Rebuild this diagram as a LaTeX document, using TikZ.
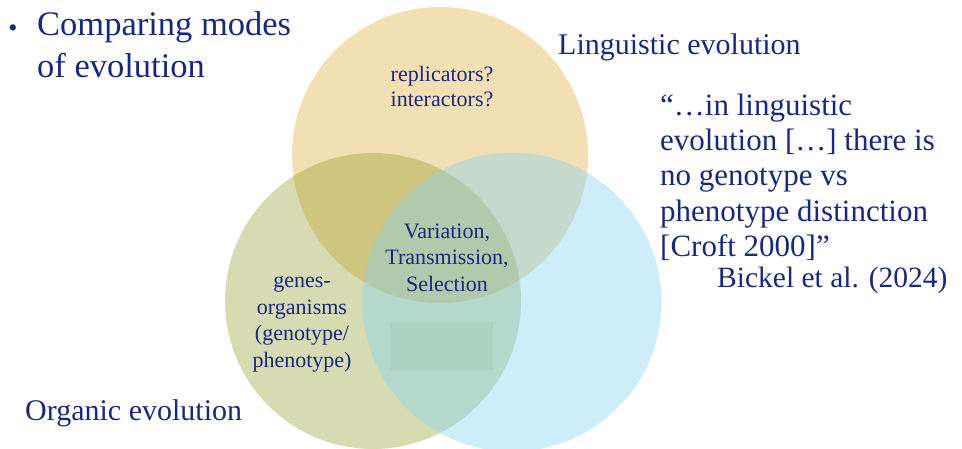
\documentclass[tikz,border=0pt]{standalone}
\usepackage{fontspec}
\setmainfont{Liberation Serif}
\definecolor{ink}{RGB}{25,40,125}
\definecolor{sandfill}{RGB}{243,223,180}
\definecolor{olivefill}{RGB}{131,146,22}
\definecolor{skyfill}{RGB}{130,212,240}
\definecolor{boxfill}{RGB}{120,160,140}

\begin{document}
\begin{tikzpicture}[x=1pt,y=-1pt,
  bigtext/.style={text=ink, inner sep=0pt, align=left, font=\fontsize{30}{35}\selectfont},
  smalltext/.style={text=ink, inner sep=0pt, align=center, font=\fontsize{22}{26.5}\selectfont},
]
\useasboundingbox (0,0) rectangle (962,449);

% the three overlapping sets
\fill[sandfill] (440,155) circle (148pt);
\fill[olivefill, fill opacity=0.33] (373,301) circle (148pt);
\fill[skyfill, fill opacity=0.4] (512,302) circle (149.5pt);

% faint panel in the lower overlap
\fill[boxfill, fill opacity=0.12] (390,322) rectangle (493,370);

% heading (multi-line nodes are placed by the baseline of their last line)
\node[bigtext, font=\fontsize{26}{26}\selectfont, anchor=base] (bullet) at (13,37) {•};
\node[bigtext, font=\fontsize{34.5}{42}\selectfont, anchor=base west] (title) at (37,78)
  {Comparing modes\\of evolution};

% set labels
\node[bigtext, anchor=base west] (ling) at (558,55) {Linguistic evolution};
\node[bigtext, anchor=base west] (org) at (25,420) {Organic evolution};

% text inside the sets
\node[smalltext, font=\fontsize{22}{25}\selectfont, anchor=base] (repl) at (442,107)
  {replicators?\\interactors?};
\node[smalltext, font=\fontsize{22}{27}\selectfont, anchor=base] (vts) at (447,292)
  {Variation,\\Transmission,\\Selection};
\node[smalltext, anchor=base] (genes) at (302,367)
  {genes-\\organisms\\(genotype/\\phenotype)};

% quotation
\node[bigtext, font=\fontsize{31}{35.5}\selectfont, anchor=base west] (quote) at (660,257)
  {“…in linguistic\\evolution {[}…{]} there is\\no genotype vs\\phenotype distinction\\{[}Croft 2000{]}”};
\node[bigtext, font=\fontsize{29.5}{35}\selectfont, anchor=base west] (cite) at (717,288)
  {Bickel et al. (2024)};
\end{tikzpicture}
\end{document}
